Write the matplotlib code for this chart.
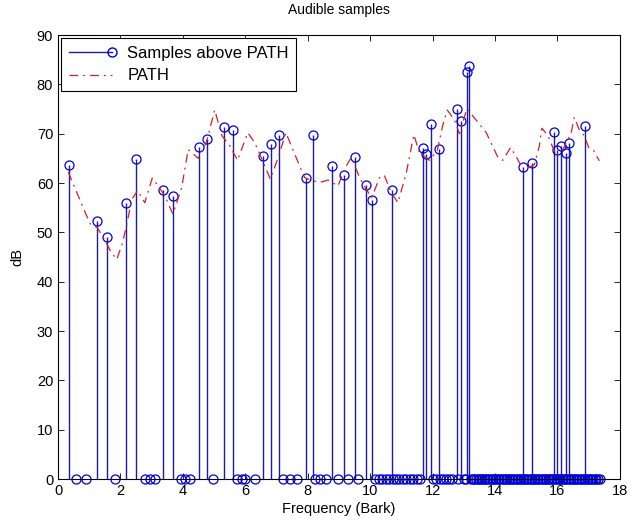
import numpy as np
import matplotlib
matplotlib.use("Agg")
import matplotlib.pyplot as plt
from matplotlib.legend_handler import HandlerLine2D
from matplotlib.lines import Line2D

plt.rcParams['font.family'] = ['Liberation Sans', 'DejaVu Sans']

# samples above the PATH (Bark, dB)
above_freq = [0.35, 1.26, 1.58, 2.18, 2.5, 3.37, 3.67, 4.51, 4.78, 5.31, 5.59,
              6.57, 6.81, 7.07, 7.94, 8.16, 8.78, 9.15, 9.53, 9.86, 10.06, 10.7,
              11.69, 11.8, 11.94, 12.19, 12.78, 12.9, 13.11, 13.18, 14.89, 15.19,
              15.88, 15.99, 16.1, 16.28, 16.36, 16.89]
above_db = [63.7, 52.2, 49.1, 56.0, 64.8, 58.5, 57.3, 67.2, 69.0, 71.3, 70.8,
            65.4, 67.9, 69.8, 61.1, 69.8, 63.5, 61.7, 65.2, 59.5, 56.6, 58.5,
            67.1, 65.9, 71.9, 66.9, 75.0, 72.6, 82.4, 83.8, 63.3, 64.0,
            70.3, 66.7, 67.6, 66.1, 68.2, 71.5]

# samples below the PATH, drawn at 0 dB
zero_freq = [0.58, 0.9, 1.82, 2.78, 2.95, 3.1, 3.95, 4.08, 4.24, 4.96, 5.73,
             5.88, 6.0, 6.32, 7.22, 7.43, 7.65, 8.23, 8.39, 8.6, 8.98, 9.3, 9.62,
             10.15, 10.27, 10.38, 10.5, 10.61, 10.72, 10.83, 10.94, 11.05, 11.16,
             11.27, 11.38, 11.49, 11.59,
             12.01, 12.12, 12.23, 12.33, 12.43, 12.53, 12.63, 12.81, 13.0, 13.08,
             13.24, 13.29, 13.34, 13.39, 13.44, 13.49, 13.54, 13.59, 13.64, 13.69,
             13.74, 13.79, 13.84, 13.89, 13.94, 13.99, 14.04, 14.09, 14.14, 14.19,
             14.24, 14.29, 14.34, 14.39, 14.44, 14.49, 14.54, 14.59, 14.64, 14.69,
             14.74, 14.79, 14.84, 14.89, 14.94, 14.99, 15.04, 15.09, 15.14, 15.19,
             15.24, 15.29, 15.34, 15.39, 15.44, 15.49, 15.54, 15.59, 15.64, 15.69,
             15.74, 15.79, 15.84, 15.89, 15.94, 15.99, 16.04, 16.09, 16.14, 16.19,
             16.24, 16.29, 16.34, 16.39, 16.44, 16.49, 16.54, 16.59, 16.64, 16.69,
             16.74, 16.79, 16.84, 16.89, 16.94, 16.99, 17.04, 17.09, 17.14, 17.19,
             17.24, 17.29, 17.35]

# PATH curve
path_freq = [0.33, 0.5, 0.7, 0.9, 1.05, 1.25, 1.45, 1.7, 1.88, 2.05, 2.2, 2.36,
             2.55, 2.78, 3.02, 3.2, 3.42, 3.68, 3.96, 4.17, 4.49, 4.75, 5.02, 5.25,
             5.5, 5.75, 6.08, 6.3, 6.55, 6.8, 7.05, 7.3, 7.6, 7.9, 8.1, 8.38, 8.65,
             8.97, 9.2, 9.4, 9.66, 9.87, 10.05, 10.3, 10.45, 10.68, 10.89, 11.16,
             11.4, 11.58, 11.9, 12.15, 12.33, 12.47, 12.7, 12.86, 13.1, 13.3, 13.72,
             14.1, 14.25, 14.5, 14.7, 14.9, 15.26, 15.42, 15.5, 15.7, 15.96, 16.17,
             16.44, 16.54, 16.7, 16.86, 17.0, 17.15, 17.34]
path_db = [62.2, 59.6, 56.6, 53.6, 51.5, 51.0, 49.0, 46.0, 44.5, 47.5, 51.5,
           56.6, 58.5, 56.0, 61.0, 59.5, 57.4, 53.7, 59.0, 66.8, 65.0, 68.2, 74.8,
           69.6, 67.6, 64.6, 70.2, 68.2, 64.6, 60.8, 65.1, 70.2, 65.6, 61.1, 60.6,
           60.1, 60.6, 59.4, 63.1, 65.2, 61.1, 58.8, 57.0, 61.1, 61.6, 58.0, 56.0,
           62.1, 69.8, 66.1, 64.6, 66.6, 71.8, 74.8, 72.8, 70.0, 75.1, 73.5, 70.2,
           65.1, 64.6, 67.2, 65.1, 62.6, 63.7, 67.5, 71.1, 69.6, 65.5, 66.7, 70.2,
           73.3, 70.8, 69.6, 67.2, 66.7, 64.5]

freq = np.array(above_freq + zero_freq)
vals = np.array(above_db + [0.0] * len(zero_freq))
order = np.argsort(freq)
freq, vals = freq[order], vals[order]

stem_c = '#1c1ca0'
path_c = '#d42020'
dashdot = (0, (7, 4, 1.5, 4))

fig = plt.figure(figsize=(6.32, 5.28), dpi=100)
ax = fig.add_axes([0.0918, 0.0928, 0.889, 0.8409])

markers, stemlines, baseline = ax.stem(freq, vals, basefmt=' ')
stemlines.set_color(stem_c)
stemlines.set_linewidth(1.0)
markers.set_marker('o')
markers.set_markersize(6.5)
markers.set_markerfacecolor('none')
markers.set_markeredgecolor('#0000dd')
markers.set_markeredgewidth(0.9)
markers.set_clip_on(False)

ax.plot(path_freq, path_db, color=path_c, linestyle=dashdot, linewidth=0.9)

ax.set_xlim(0, 18)
ax.set_ylim(0, 90)
ax.set_xticks(np.arange(0, 19, 2))
ax.set_yticks(np.arange(0, 91, 10))
ax.tick_params(direction='in', top=True, right=True, labelsize=10.5, length=4, width=0.6)
for s in ax.spines.values():
    s.set_linewidth(0.8)

ax.set_title('Audible samples', fontsize=10, pad=15)
ax.set_xlabel('Frequency (Bark)', fontsize=10.5, labelpad=3)
ax.set_ylabel('dB', fontsize=10.5, labelpad=9)


class StemHandler(HandlerLine2D):
    def create_artists(self, *args, **kw):
        arts = super().create_artists(*args, **kw)
        for a in arts:
            a.set_markevery([len(a.get_xdata()) - 1])
        return arts


stem_proxy = Line2D([], [], color=stem_c, linewidth=1.0, marker='o', markersize=6.5,
                    markerfacecolor='none', markeredgecolor='#0000dd')
path_proxy = Line2D([], [], color=path_c, linestyle=dashdot, linewidth=0.9)
leg = ax.legend([stem_proxy, path_proxy], ['Samples above PATH', 'PATH'],
                loc='upper left', fontsize=12, numpoints=1, handlelength=2.6,
                handletextpad=0.9, borderaxespad=0.2, borderpad=0.45,
                labelspacing=0.45, fancybox=False, framealpha=1, edgecolor='black',
                handler_map={stem_proxy: StemHandler()})
leg.get_frame().set_linewidth(0.8)

fig.savefig('out.png', dpi=100)
